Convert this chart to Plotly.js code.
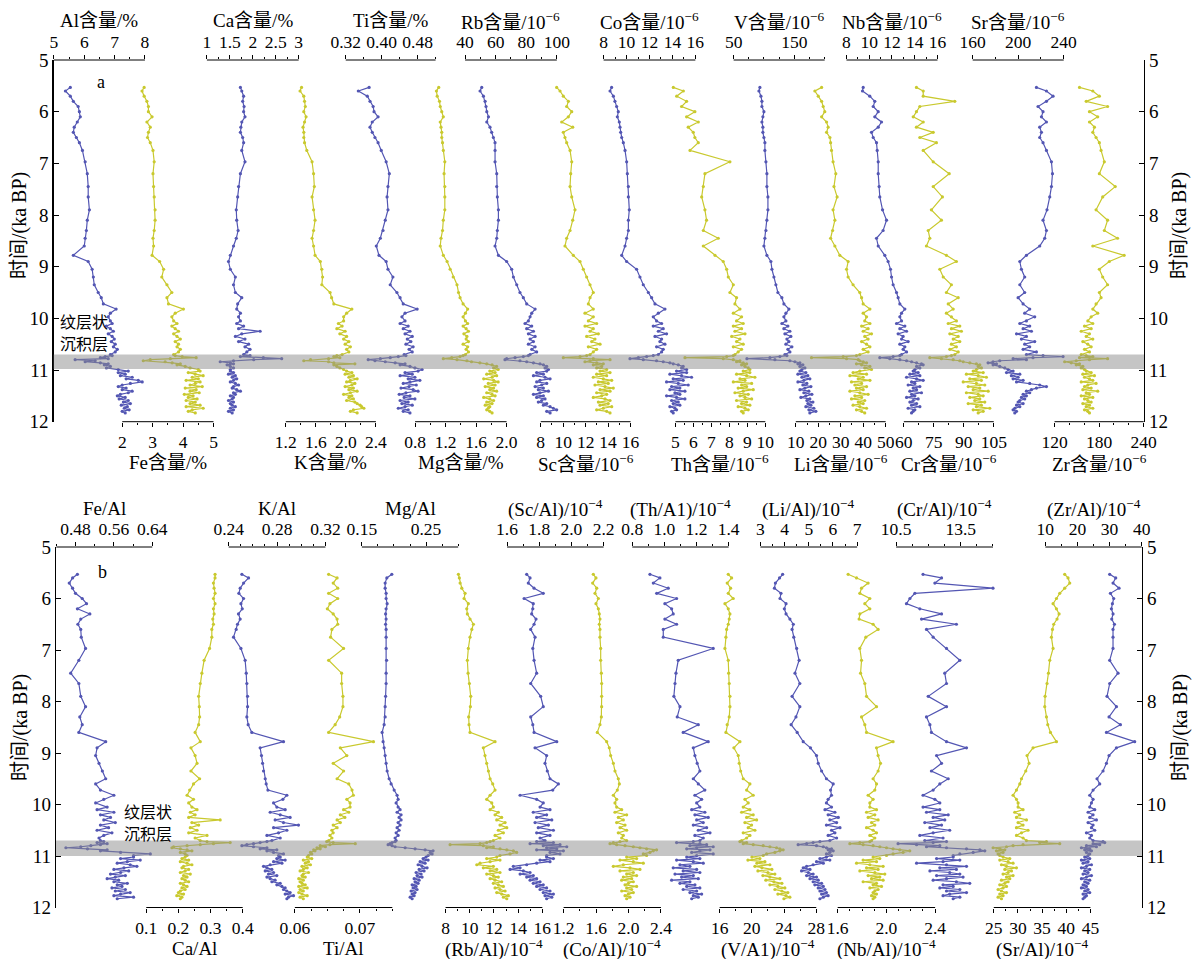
<!DOCTYPE html>
<html>
<head>
<meta charset="utf-8">
<script src="https://cdn.plot.ly/plotly-3.0.1.min.js"></script>
<style>
  html, body { margin: 0; padding: 0; background: #ffffff; }
  #chart { width: 1194px; height: 959px; }
</style>
</head>
<body>
<div id="chart"></div>
<script>
// Sample ages (ka BP) shared by every profile
const TIME = [5.53, 5.6, 5.7, 5.8, 5.9, 6.0, 6.1, 6.2, 6.3, 6.4, 6.5, 6.6, 6.75, 6.97, 7.2, 7.45, 7.65, 7.9, 8.1, 8.3, 8.45, 8.6, 8.78, 8.9, 9.05, 9.2, 9.35, 9.5, 9.6, 9.72, 9.82, 9.9, 9.97,
  10.05, 10.1, 10.15, 10.2, 10.25, 10.3, 10.35, 10.4, 10.45, 10.5, 10.55, 10.6, 10.65, 10.7,
  10.72, 10.74, 10.76, 10.78, 10.8, 10.82, 10.84, 10.86, 10.88, 10.9, 10.93, 10.96, 10.99,
  11.02, 11.05, 11.08, 11.11, 11.14, 11.17, 11.2, 11.23, 11.26, 11.29, 11.32, 11.35, 11.38, 11.41, 11.44, 11.47, 11.5, 11.53, 11.56, 11.59, 11.62, 11.65, 11.68, 11.71, 11.74, 11.77, 11.8, 11.83];

// ---- Panel a: element contents ----
const AL = [5.54, 5.38, 5.54, 5.64, 5.80, 5.84, 5.87, 5.77, 5.67, 5.64, 5.74, 5.84, 5.94, 6.03, 6.10, 6.13, 6.13, 6.17, 6.10, 6.07, 6.03, 6.00, 5.64, 6.13, 6.26, 6.30, 6.33, 6.46, 6.56, 6.63, 7.05, 6.86, 6.79,
  6.86, 6.92, 6.73, 6.86, 6.96, 6.79, 6.92, 6.99, 6.89, 7.02, 6.96, 7.09, 7.02, 6.86,
  6.92, 6.69, 6.53, 6.79, 5.70, 6.36, 6.03, 6.53, 6.79, 6.66, 6.86, 6.73, 7.12,
  7.45, 7.12, 7.35, 7.19, 7.58, 7.38, 7.78, 7.91, 7.52, 7.25, 7.12, 7.38, 7.25, 7.58, 7.45, 7.19, 7.09, 7.35, 7.15, 7.45, 7.29, 7.52, 7.22, 7.42, 7.32, 7.48, 7.25, 7.35];
const FE = [2.72, 2.65, 2.72, 2.81, 2.86, 2.86, 2.98, 2.81, 2.92, 2.86, 2.83, 2.92, 3.01, 3.05, 3.01, 3.03, 3.05, 3.08, 3.08, 3.05, 3.01, 3.03, 2.98, 3.23, 3.36, 3.30, 3.47, 3.63, 3.47, 3.52, 4.01, 3.74, 3.63,
  3.69, 3.80, 3.63, 3.74, 3.85, 3.69, 3.80, 3.91, 3.74, 3.85, 3.80, 3.91, 3.85, 3.69,
  3.74, 3.97, 4.43, 3.58, 2.92, 2.69, 3.41, 3.64, 3.91, 3.80, 4.07, 4.23, 4.50,
  4.56, 4.17, 4.40, 4.66, 4.30, 4.50, 4.10, 4.56, 4.40, 4.23, 4.63, 4.07, 4.43, 4.23, 4.53, 4.04, 4.33, 4.17, 4.46, 4.10, 4.40, 4.23, 4.56, 4.10, 4.66, 4.30, 4.17, 4.40];
const CA = [1.73, 1.76, 1.80, 1.78, 1.81, 1.80, 1.83, 1.76, 1.74, 1.73, 1.78, 1.80, 1.76, 1.83, 1.73, 1.69, 1.67, 1.64, 1.65, 1.68, 1.64, 1.58, 1.51, 1.47, 1.51, 1.62, 1.58, 1.62, 1.76, 1.67, 1.65, 1.73, 1.69,
  1.73, 1.65, 1.80, 1.69, 2.16, 1.76, 1.62, 1.83, 1.69, 1.91, 1.83, 1.94, 1.87, 1.80,
  1.94, 1.73, 2.23, 2.63, 2.02, 1.58, 1.29, 1.51, 1.58, 1.44, 1.51, 1.58, 1.51,
  1.51, 1.58, 1.47, 1.62, 1.55, 1.65, 1.58, 1.51, 1.62, 1.69, 1.58, 1.55, 1.65, 1.73, 1.58, 1.62, 1.51, 1.58, 1.55, 1.47, 1.58, 1.51, 1.55, 1.62, 1.51, 1.58, 1.47, 1.55];
const K = [1.41, 1.39, 1.44, 1.45, 1.46, 1.44, 1.47, 1.45, 1.43, 1.44, 1.44, 1.45, 1.48, 1.55, 1.57, 1.58, 1.55, 1.57, 1.59, 1.57, 1.55, 1.57, 1.59, 1.66, 1.68, 1.69, 1.68, 1.79, 1.81, 1.84, 2.08, 2.01, 1.97,
  1.97, 1.90, 1.95, 1.88, 1.99, 1.92, 2.01, 1.97, 2.04, 1.99, 2.06, 2.01, 2.04, 1.95,
  1.88, 1.84, 1.92, 1.77, 1.53, 1.44, 1.77, 1.84, 2.12, 1.84, 1.88, 1.92, 1.97,
  2.01, 2.08, 1.99, 2.10, 2.04, 2.15, 2.06, 2.01, 2.12, 2.08, 1.99, 2.10, 2.04, 2.15, 2.06, 1.97, 2.08, 2.04, 2.10, 2.01, 2.12, 2.15, 2.19, 2.21, 2.24, 2.10, 2.06, 2.15];
const TI = [0.372, 0.348, 0.368, 0.374, 0.381, 0.383, 0.392, 0.379, 0.374, 0.379, 0.385, 0.392, 0.399, 0.410, 0.417, 0.414, 0.412, 0.414, 0.408, 0.403, 0.397, 0.388, 0.394, 0.410, 0.414, 0.425, 0.419, 0.434, 0.441, 0.448, 0.479, 0.452, 0.445,
  0.452, 0.441, 0.459, 0.448, 0.463, 0.452, 0.468, 0.457, 0.465, 0.454, 0.470, 0.461, 0.468, 0.450,
  0.454, 0.437, 0.419, 0.397, 0.370, 0.385, 0.408, 0.430, 0.452, 0.441, 0.463, 0.474, 0.490,
  0.481, 0.452, 0.468, 0.441, 0.474, 0.459, 0.485, 0.463, 0.448, 0.477, 0.461, 0.443, 0.470, 0.481, 0.454, 0.439, 0.463, 0.450, 0.474, 0.441, 0.459, 0.445, 0.468, 0.452, 0.437, 0.459, 0.448, 0.463];
const MG = [1.11, 1.08, 1.09, 1.12, 1.13, 1.15, 1.17, 1.13, 1.14, 1.15, 1.15, 1.16, 1.17, 1.19, 1.18, 1.19, 1.19, 1.19, 1.17, 1.16, 1.14, 1.13, 1.17, 1.22, 1.26, 1.30, 1.35, 1.37, 1.39, 1.43, 1.49, 1.46, 1.43,
  1.46, 1.49, 1.43, 1.47, 1.50, 1.44, 1.48, 1.47, 1.50, 1.43, 1.49, 1.47, 1.50, 1.46,
  1.43, 1.39, 1.28, 1.17, 1.35, 1.48, 1.54, 1.65, 1.74, 1.81, 1.87, 1.83, 1.89,
  1.78, 1.85, 1.74, 1.87, 1.81, 1.70, 1.83, 1.89, 1.76, 1.85, 1.72, 1.83, 1.78, 1.87, 1.74, 1.81, 1.85, 1.70, 1.78, 1.83, 1.74, 1.81, 1.72, 1.78, 1.76, 1.74, 1.78, 1.81];
const RB = [50.9, 49.8, 52.0, 53.1, 53.7, 54.2, 55.3, 54.2, 56.3, 57.4, 58.5, 59.6, 59.6, 59.6, 60.7, 60.7, 61.1, 61.8, 61.8, 61.1, 60.7, 59.6, 61.8, 67.2, 70.5, 71.6, 73.8, 75.9, 78.1, 80.3, 85.8, 83.6, 82.5,
  81.4, 79.2, 83.6, 80.3, 84.7, 81.4, 85.8, 82.5, 84.7, 81.4, 85.8, 83.6, 86.8, 82.5,
  81.4, 78.1, 72.7, 67.2, 66.1, 75.9, 80.3, 84.7, 89.0, 91.2, 93.4, 92.3, 94.5,
  93.4, 86.8, 91.2, 84.7, 92.3, 95.6, 89.0, 86.8, 93.4, 90.1, 85.8, 91.2, 87.9, 94.5, 89.0, 84.7, 91.2, 86.8, 92.3, 90.1, 87.9, 93.4, 91.2, 95.6, 97.7, 99.9, 93.4, 95.6];
const SC = [9.42, 9.72, 10.01, 10.46, 10.31, 10.76, 10.46, 9.87, 10.85, 10.01, 10.16, 10.31, 10.61, 10.76, 10.67, 10.61, 10.76, 11.05, 10.85, 10.61, 10.31, 10.16, 10.90, 11.50, 11.79, 12.09, 12.39, 12.68, 12.39, 12.24, 12.68, 11.94, 12.68,
  12.24, 12.98, 11.94, 12.68, 12.39, 13.13, 12.09, 12.83, 12.54, 13.28, 12.24, 12.98, 12.68, 12.39,
  12.09, 11.50, 10.01, 12.68, 14.17, 12.39, 11.94, 12.98, 13.57, 12.68, 13.43, 12.98, 13.87,
  13.28, 14.17, 12.98, 13.87, 12.68, 13.57, 14.32, 13.13, 14.01, 12.83, 13.72, 14.46, 13.28, 14.17, 12.98, 13.87, 13.43, 12.68, 13.72, 14.17, 13.13, 14.01, 13.28, 14.32, 13.57, 12.98, 13.87, 14.17];
const CO = [8.70, 8.56, 8.85, 8.99, 9.14, 9.28, 9.20, 9.37, 9.43, 9.49, 9.58, 9.72, 9.87, 10.01, 10.07, 10.16, 10.16, 10.24, 10.16, 10.16, 10.01, 9.87, 9.58, 10.01, 10.88, 11.17, 11.46, 11.90, 12.19, 12.48, 13.35, 12.77, 12.33,
  12.62, 13.06, 12.33, 13.20, 12.77, 13.49, 12.48, 13.06, 12.91, 13.35, 12.62, 13.20, 13.06, 12.77,
  12.33, 11.75, 11.03, 10.30, 11.46, 12.62, 13.20, 13.78, 14.07, 14.51, 14.94, 14.80, 15.24,
  14.36, 15.24, 13.78, 14.80, 15.67, 14.07, 14.94, 13.49, 14.51, 15.38, 13.93, 14.65, 13.78, 15.09, 14.22, 14.65, 13.49, 14.36, 15.09, 13.93, 14.51, 14.07, 14.65, 13.78, 14.22, 14.36, 13.93, 14.07];
const TH = [4.88, 5.44, 5.07, 5.62, 5.34, 6.08, 5.62, 6.27, 5.71, 5.99, 6.08, 6.27, 5.81, 8.03, 6.64, 6.55, 6.46, 6.64, 6.73, 6.55, 7.38, 6.55, 7.20, 7.66, 7.85, 7.94, 8.22, 8.03, 8.40, 8.31, 8.59, 8.22, 8.68,
  8.40, 8.77, 8.22, 8.68, 8.31, 8.87, 8.13, 8.59, 8.40, 8.77, 8.22, 8.68, 8.49, 8.31,
  8.22, 7.85, 5.53, 7.66, 8.22, 8.59, 8.40, 8.77, 8.96, 8.68, 8.87, 9.05, 9.14,
  8.77, 9.14, 8.40, 8.96, 9.42, 8.59, 8.87, 8.22, 9.24, 8.68, 8.96, 8.49, 9.33, 8.77, 8.31, 9.05, 8.59, 8.87, 9.24, 8.40, 8.96, 8.68, 9.14, 8.49, 8.87, 9.05, 8.68, 8.77];
const V = [93.3, 91.7, 95.0, 96.6, 96.6, 99.9, 98.2, 96.6, 98.2, 98.2, 99.9, 101.5, 101.5, 103.2, 104.8, 104.8, 106.5, 106.5, 104.8, 103.2, 101.5, 99.9, 104.8, 111.4, 113.1, 116.4, 119.6, 122.9, 129.5, 132.8, 141.1, 136.1, 132.8,
  136.1, 129.5, 139.4, 132.8, 142.7, 134.5, 144.3, 137.8, 141.1, 136.1, 146.0, 139.4, 142.7, 134.5,
  137.8, 126.2, 109.8, 71.9, 118.0, 142.7, 150.9, 159.2, 155.9, 164.1, 159.2, 167.4, 162.5,
  159.2, 169.0, 155.9, 172.3, 162.5, 175.6, 165.7, 155.9, 170.7, 164.1, 177.3, 167.4, 159.2, 174.0, 165.7, 178.9, 169.0, 160.8, 175.6, 170.7, 180.6, 172.3, 177.3, 169.0, 182.2, 174.0, 185.5, 175.6];
const LI = [21.5, 18.5, 20.0, 21.5, 22.2, 22.9, 21.5, 23.7, 24.4, 23.7, 25.2, 25.5, 25.9, 26.6, 27.8, 27.0, 28.4, 26.6, 27.4, 26.4, 25.5, 27.4, 29.6, 33.3, 32.6, 33.3, 35.5, 38.5, 39.3, 40.0, 43.0, 40.0, 41.5,
  40.7, 43.0, 39.3, 42.2, 40.0, 43.7, 40.7, 42.2, 39.3, 41.5, 43.0, 40.0, 42.2, 38.5,
  37.0, 31.1, 17.0, 32.6, 37.8, 38.5, 40.0, 41.5, 37.0, 39.3, 43.0, 40.7, 43.7,
  38.5, 35.5, 41.5, 34.1, 40.0, 37.8, 43.0, 34.8, 39.3, 36.3, 41.5, 37.0, 40.0, 34.1, 38.5, 42.2, 36.3, 39.3, 34.8, 40.7, 37.8, 40.0, 35.5, 38.5, 41.5, 37.0, 39.3, 40.7];
const NB = [9.47, 9.41, 10.05, 10.49, 10.35, 10.79, 10.49, 11.08, 10.79, 10.20, 10.35, 10.64, 10.70, 10.79, 10.79, 10.87, 10.93, 11.17, 11.52, 11.22, 10.64, 10.79, 11.37, 11.66, 11.87, 11.96, 12.10, 12.40, 12.54, 12.69, 13.13, 12.84, 12.69,
  12.84, 12.40, 13.13, 12.69, 13.28, 12.54, 12.98, 12.84, 13.42, 12.69, 13.13, 12.98, 13.28, 12.84,
  12.69, 12.10, 10.93, 11.81, 12.69, 13.28, 13.72, 14.16, 14.59, 14.74, 14.16, 14.45, 14.01,
  13.86, 14.30, 13.57, 14.45, 13.28, 14.16, 14.74, 13.72, 14.01, 13.42, 14.45, 13.86, 14.16, 13.57, 14.59, 13.72, 14.01, 13.28, 14.30, 13.86, 13.57, 14.16, 13.72, 14.45, 13.42, 14.01, 13.86, 13.72];
const CR = [66.3, 69.7, 69.7, 85.5, 68.0, 66.3, 64.7, 69.7, 66.3, 74.7, 68.0, 76.3, 69.7, 74.7, 82.7, 74.7, 79.3, 73.8, 78.8, 72.2, 73.0, 71.3, 81.3, 86.3, 78.0, 79.7, 83.8, 81.3, 87.2, 82.2, 84.7, 81.3, 83.8,
  86.3, 82.2, 88.0, 83.8, 88.8, 83.0, 87.2, 84.7, 88.0, 83.8, 86.3, 83.0, 87.2, 85.5,
  83.8, 81.3, 73.0, 78.8, 84.7, 88.0, 89.7, 93.0, 96.3, 98.0, 97.2, 98.8, 96.3,
  94.7, 99.7, 91.3, 97.2, 101.3, 93.0, 98.8, 89.7, 96.3, 100.5, 92.2, 98.0, 94.7, 102.2, 91.3, 97.2, 99.7, 93.0, 98.0, 95.5, 100.5, 92.2, 98.8, 96.3, 103.0, 94.7, 99.7, 97.2];
const SR = [216.0, 224.8, 230.6, 224.8, 217.4, 221.8, 220.4, 224.8, 218.9, 220.4, 218.9, 221.8, 224.8, 229.2, 230.1, 229.2, 227.7, 225.3, 221.8, 224.8, 223.3, 218.9, 207.2, 201.4, 202.8, 205.7, 201.4, 205.7, 199.9, 204.3, 210.1, 205.7, 214.5,
  207.2, 201.4, 210.1, 204.3, 211.6, 198.5, 207.2, 202.8, 214.5, 205.7, 210.1, 204.3, 216.0, 207.2,
  221.8, 239.4, 213.0, 195.5, 207.2, 183.8, 177.9, 173.5, 180.9, 177.9, 183.8, 188.2, 191.1,
  195.5, 189.7, 201.4, 194.0, 199.9, 195.5, 204.3, 198.5, 210.1, 218.9, 224.8, 216.0, 211.6, 207.2, 210.1, 204.3, 207.2, 202.8, 205.7, 201.4, 199.9, 204.3, 198.5, 201.4, 197.0, 195.5, 198.5, 197.0];
const ZR = [153.6, 171.5, 180.3, 162.6, 191.4, 167.0, 178.1, 167.0, 173.7, 171.5, 175.9, 180.3, 182.6, 187.0, 180.3, 201.7, 184.8, 175.9, 191.4, 187.0, 204.8, 171.5, 213.7, 193.7, 180.3, 184.8, 191.4, 180.3, 182.6, 175.9, 171.5, 178.1, 169.3,
  164.8, 171.5, 160.3, 169.3, 155.9, 167.0, 162.6, 171.5, 158.1, 164.8, 169.3, 160.3, 167.0, 155.9,
  162.6, 171.5, 153.6, 191.4, 167.0, 149.2, 133.6, 142.5, 153.6, 149.2, 158.1, 155.9, 160.3,
  162.6, 169.3, 158.1, 173.7, 160.3, 167.0, 171.5, 155.9, 175.9, 164.8, 160.3, 169.3, 158.1, 178.1, 162.6, 167.0, 155.9, 171.5, 160.3, 164.8, 169.3, 158.1, 167.0, 162.6, 171.5, 160.3, 164.8, 167.0];

// ---- Panel b: ratios to Al ----
const FE_AL = [0.484, 0.474, 0.467, 0.474, 0.480, 0.494, 0.503, 0.484, 0.510, 0.491, 0.485, 0.491, 0.492, 0.501, 0.487, 0.470, 0.487, 0.491, 0.501, 0.489, 0.494, 0.487, 0.543, 0.525, 0.522, 0.529, 0.536, 0.543, 0.522, 0.532, 0.560, 0.539, 0.522,
  0.546, 0.525, 0.560, 0.532, 0.553, 0.539, 0.563, 0.532, 0.549, 0.525, 0.556, 0.539, 0.529, 0.532,
  0.539, 0.525, 0.546, 0.532, 0.512, 0.491, 0.460, 0.505, 0.546, 0.532, 0.574, 0.636, 0.601,
  0.601, 0.574, 0.615, 0.588, 0.567, 0.594, 0.608, 0.581, 0.560, 0.591, 0.574, 0.553, 0.584, 0.563, 0.546, 0.570, 0.560, 0.588, 0.567, 0.577, 0.556, 0.584, 0.563, 0.594, 0.574, 0.560, 0.601, 0.567];
const CA_AL = [0.314, 0.314, 0.309, 0.311, 0.314, 0.309, 0.314, 0.309, 0.311, 0.307, 0.309, 0.304, 0.304, 0.297, 0.280, 0.273, 0.268, 0.263, 0.265, 0.266, 0.263, 0.252, 0.268, 0.239, 0.252, 0.258, 0.239, 0.266, 0.247, 0.235, 0.227, 0.247, 0.232,
  0.242, 0.258, 0.237, 0.252, 0.232, 0.330, 0.242, 0.263, 0.237, 0.258, 0.232, 0.289, 0.252, 0.268,
  0.289, 0.361, 0.309, 0.268, 0.227, 0.185, 0.180, 0.206, 0.227, 0.242, 0.206, 0.221, 0.227,
  0.221, 0.211, 0.232, 0.206, 0.227, 0.242, 0.216, 0.211, 0.232, 0.221, 0.206, 0.237, 0.216, 0.227, 0.211, 0.221, 0.232, 0.206, 0.216, 0.227, 0.211, 0.221, 0.206, 0.200, 0.216, 0.195, 0.211, 0.206];
const K_AL = [0.2509, 0.2564, 0.2523, 0.2495, 0.2484, 0.2523, 0.2501, 0.2512, 0.2481, 0.2495, 0.2473, 0.2462, 0.2440, 0.2501, 0.2536, 0.2545, 0.2550, 0.2556, 0.2556, 0.2550, 0.2561, 0.2591, 0.2853, 0.2660, 0.2671, 0.2680, 0.2688, 0.2702, 0.2710, 0.2724, 0.2881, 0.2848, 0.2771,
  0.2798, 0.2867, 0.2743, 0.2826, 0.2908, 0.2784, 0.2853, 0.2977, 0.2771, 0.2881, 0.2812, 0.2716, 0.2826, 0.2757,
  0.2716, 0.2660, 0.2605, 0.2550, 0.2509, 0.2605, 0.2716, 0.2660, 0.2798, 0.2716, 0.2771, 0.2853, 0.2812,
  0.2826, 0.2798, 0.2867, 0.2771, 0.2840, 0.2743, 0.2688, 0.2716, 0.2757, 0.2702, 0.2771, 0.2729, 0.2798, 0.2716, 0.2743, 0.2784, 0.2757, 0.2826, 0.2798, 0.2840, 0.2867, 0.2853, 0.2881, 0.2908, 0.2867, 0.2936, 0.2894, 0.2881];
const TI_AL = [0.0652, 0.0665, 0.0659, 0.0666, 0.0652, 0.0666, 0.0654, 0.0650, 0.0659, 0.0665, 0.0666, 0.0657, 0.0655, 0.0675, 0.0652, 0.0672, 0.0672, 0.0674, 0.0674, 0.0669, 0.0662, 0.0652, 0.0721, 0.0670, 0.0680, 0.0659, 0.0675, 0.0665, 0.0683, 0.0688, 0.0690, 0.0680, 0.0685,
  0.0685, 0.0675, 0.0683, 0.0670, 0.0677, 0.0665, 0.0670, 0.0659, 0.0665, 0.0657, 0.0659, 0.0654, 0.0657, 0.0652,
  0.0649, 0.0659, 0.0693, 0.0654, 0.0639, 0.0647, 0.0634, 0.0639, 0.0629, 0.0631, 0.0624, 0.0626, 0.0621,
  0.0619, 0.0626, 0.0613, 0.0621, 0.0616, 0.0624, 0.0611, 0.0619, 0.0613, 0.0608, 0.0621, 0.0613, 0.0611, 0.0616, 0.0606, 0.0613, 0.0608, 0.0611, 0.0616, 0.0606, 0.0619, 0.0608, 0.0613, 0.0606, 0.0611, 0.0619, 0.0608, 0.0613];
const MG_AL = [0.1967, 0.1889, 0.1863, 0.1863, 0.1878, 0.1878, 0.1894, 0.1878, 0.1870, 0.1878, 0.1870, 0.1878, 0.1878, 0.1878, 0.1886, 0.1878, 0.1878, 0.1870, 0.1863, 0.1863, 0.1847, 0.1816, 0.1831, 0.1847, 0.1863, 0.1878, 0.1894, 0.1925, 0.1956, 0.2003, 0.2049, 0.2065, 0.2034,
  0.2065, 0.2096, 0.2049, 0.2111, 0.2080, 0.2111, 0.2065, 0.2096, 0.2049, 0.2080, 0.2034, 0.2065, 0.2018, 0.2034,
  0.2018, 0.1971, 0.1940, 0.1909, 0.1971, 0.2018, 0.2174, 0.2329, 0.2485, 0.2609, 0.2563, 0.2594, 0.2532,
  0.2500, 0.2454, 0.2532, 0.2407, 0.2485, 0.2376, 0.2438, 0.2516, 0.2392, 0.2469, 0.2345, 0.2423, 0.2360, 0.2438, 0.2314, 0.2392, 0.2329, 0.2376, 0.2283, 0.2345, 0.2298, 0.2360, 0.2267, 0.2329, 0.2283, 0.2314, 0.2252, 0.2283];
const RB_AL = [9.06, 9.14, 9.20, 9.34, 9.61, 9.53, 9.88, 9.75, 9.80, 10.02, 10.30, 10.17, 10.02, 9.88, 9.80, 9.86, 9.97, 10.08, 10.05, 9.91, 9.94, 10.02, 12.09, 11.12, 11.26, 11.40, 11.54, 11.68, 11.90, 12.09, 11.68, 11.40, 11.82,
  11.95, 11.68, 12.36, 12.09, 12.64, 12.23, 12.92, 12.50, 13.06, 12.36, 12.78, 12.09, 12.50, 11.95,
  11.68, 11.40, 10.85, 8.37, 11.12, 11.95, 11.40, 12.50, 13.06, 13.60, 13.88, 13.33, 12.50,
  12.23, 11.40, 12.50, 11.68, 10.85, 10.58, 11.95, 11.12, 12.23, 11.68, 12.50, 11.40, 11.95, 12.36, 11.68, 12.09, 12.64, 11.95, 12.36, 12.78, 12.09, 12.50, 12.92, 12.23, 12.64, 13.19, 12.78, 13.06];
const SC_AL = [1.722, 1.743, 1.732, 1.768, 1.825, 1.706, 1.763, 1.760, 1.753, 1.780, 1.768, 1.747, 1.774, 1.760, 1.768, 1.784, 1.747, 1.809, 1.825, 1.747, 1.760, 1.768, 1.909, 1.774, 1.846, 1.836, 1.850, 1.867, 1.919, 1.884, 1.681, 1.784, 1.825,
  1.805, 1.867, 1.763, 1.846, 1.784, 1.878, 1.774, 1.857, 1.794, 1.888, 1.784, 1.867, 1.805, 1.836,
  1.784, 1.888, 1.743, 1.929, 1.825, 1.971, 1.846, 1.909, 1.784, 1.950, 1.867, 1.929, 1.846,
  1.846, 1.888, 1.805, 1.867, 1.784, 1.722, 1.639, 1.681, 1.619, 1.701, 1.743, 1.681, 1.763, 1.722, 1.784, 1.743, 1.805, 1.763, 1.825, 1.784, 1.846, 1.805, 1.867, 1.825, 1.888, 1.836, 1.878, 1.846];
const CO_AL = [1.566, 1.599, 1.558, 1.608, 1.587, 1.628, 1.599, 1.628, 1.640, 1.648, 1.640, 1.648, 1.648, 1.657, 1.657, 1.665, 1.669, 1.669, 1.669, 1.665, 1.648, 1.615, 1.731, 1.763, 1.780, 1.813, 1.833, 1.874, 1.887, 1.862, 1.813, 1.854, 1.833,
  1.854, 1.916, 1.833, 1.977, 1.874, 1.936, 1.854, 1.957, 1.895, 1.977, 1.874, 1.936, 1.916, 1.977,
  1.895, 1.813, 1.772, 1.854, 1.957, 2.059, 2.141, 2.223, 2.346, 2.305, 2.264, 2.182, 2.223,
  1.977, 2.100, 1.895, 2.059, 2.182, 1.936, 1.813, 2.018, 2.141, 1.895, 2.059, 1.977, 2.100, 1.936, 2.039, 1.916, 2.059, 1.998, 1.957, 2.100, 1.977, 2.039, 1.916, 2.059, 1.998, 1.957, 2.018, 1.977];
const TH_AL = [0.910, 0.972, 0.931, 1.024, 0.952, 1.076, 1.003, 1.045, 1.055, 1.003, 1.076, 0.993, 0.993, 1.304, 1.086, 1.072, 1.066, 1.059, 1.097, 1.080, 1.211, 1.117, 1.273, 1.180, 1.190, 1.204, 1.221, 1.180, 1.211, 1.252, 1.190, 1.232, 1.201,
  1.221, 1.170, 1.252, 1.190, 1.273, 1.201, 1.242, 1.180, 1.263, 1.211, 1.284, 1.190, 1.242, 1.221,
  1.180, 1.076, 1.221, 1.263, 1.159, 1.304, 1.201, 1.139, 1.284, 1.221, 1.170, 1.304, 1.201,
  1.139, 1.221, 1.076, 1.180, 1.242, 1.097, 1.159, 1.055, 1.201, 1.117, 1.221, 1.066, 1.180, 1.107, 1.211, 1.045, 1.159, 1.097, 1.190, 1.139, 1.221, 1.117, 1.201, 1.159, 1.232, 1.180, 1.211, 1.170];
const V_AL = [17.07, 17.49, 16.94, 17.36, 17.07, 17.69, 16.66, 17.07, 17.28, 17.19, 17.07, 16.87, 16.78, 16.66, 17.07, 17.12, 17.19, 17.28, 17.28, 17.19, 16.94, 16.78, 18.52, 17.77, 18.31, 18.43, 18.61, 18.93, 19.76, 19.35, 20.17, 19.14, 19.55,
  18.93, 19.76, 18.73, 20.17, 19.35, 20.59, 19.14, 19.97, 19.55, 20.38, 18.93, 19.76, 19.35, 18.73,
  18.52, 19.35, 18.93, 20.17, 21.41, 22.24, 23.07, 23.48, 23.89, 23.48, 22.86, 21.83, 21.41,
  20.01, 21.00, 19.51, 21.62, 20.63, 22.24, 20.38, 21.25, 22.49, 20.75, 21.99, 22.86, 21.37, 22.24, 23.48, 21.74, 22.74, 23.73, 22.24, 23.23, 24.10, 22.86, 23.73, 24.47, 23.23, 24.23, 24.72, 23.98];
const LI_AL = [3.92, 3.79, 3.62, 3.58, 3.85, 3.81, 4.06, 3.99, 4.06, 4.22, 4.36, 4.31, 4.38, 4.50, 4.60, 4.43, 4.63, 4.31, 4.63, 4.47, 4.27, 4.52, 4.77, 5.07, 5.32, 5.39, 5.53, 5.73, 6.01, 5.90, 5.94, 5.80, 5.73,
  5.94, 5.67, 6.08, 5.80, 6.22, 5.87, 6.15, 5.73, 6.29, 5.94, 6.08, 5.80, 6.15, 5.87,
  5.46, 5.18, 4.91, 4.56, 5.32, 5.60, 5.73, 5.94, 5.80, 6.01, 5.87, 5.73, 5.94,
  5.73, 5.46, 5.87, 5.32, 5.60, 5.18, 4.91, 4.77, 5.05, 4.70, 4.98, 5.18, 4.91, 5.32, 5.05, 5.39, 5.18, 5.53, 5.25, 5.60, 5.39, 5.67, 5.46, 5.73, 5.53, 5.80, 5.60, 5.46];
const NB_AL = [1.686, 1.755, 1.850, 1.796, 1.782, 1.864, 1.823, 1.864, 1.782, 1.776, 1.891, 1.932, 1.831, 1.782, 1.796, 1.788, 1.823, 1.837, 1.919, 1.796, 1.823, 1.837, 2.055, 1.919, 1.932, 1.952, 1.932, 1.891, 1.919, 1.905, 1.850, 1.891, 1.864,
  1.864, 1.919, 1.837, 1.905, 1.850, 1.932, 1.878, 1.905, 1.837, 1.891, 1.919, 1.864, 1.905, 1.878,
  1.864, 1.782, 1.700, 1.809, 1.891, 1.946, 2.001, 2.055, 2.110, 2.192, 2.137, 2.055, 2.001,
  1.891, 1.946, 1.809, 1.919, 1.755, 1.864, 1.973, 1.837, 1.932, 1.782, 1.905, 1.987, 1.850, 1.946, 1.878, 1.973, 1.809, 1.919, 1.891, 1.960, 1.864, 1.932, 1.905, 1.891, 1.919, 1.878, 1.905, 1.891];
const CR_AL = [11.75, 12.61, 12.30, 15.0, 11.37, 11.14, 10.98, 11.60, 12.61, 11.68, 13.30, 11.91, 12.22, 12.84, 13.46, 12.76, 12.84, 11.99, 12.84, 11.91, 12.07, 12.14, 12.84, 13.77, 12.38, 12.61, 12.14, 12.92, 12.53, 12.22, 11.75, 12.30, 12.53,
  11.75, 12.53, 11.91, 12.92, 12.22, 12.76, 11.83, 12.61, 12.07, 12.99, 12.22, 11.60, 12.68, 11.83,
  12.84, 12.22, 10.59, 11.45, 12.53, 11.91, 12.84, 13.77, 14.39, 14.62, 14.08, 13.46, 13.15,
  13.15, 12.38, 13.46, 12.68, 11.45, 12.84, 13.77, 12.53, 13.30, 12.07, 12.99, 13.46, 12.38, 13.61, 12.84, 12.22, 13.30, 13.92, 12.68, 13.15, 12.53, 13.46, 12.84, 13.77, 12.99, 12.68, 13.46, 13.15];
const SR_AL = [39.68, 40.37, 40.72, 39.68, 38.65, 37.97, 37.27, 37.97, 38.51, 38.09, 37.41, 37.14, 36.93, 37.27, 36.58, 36.31, 36.02, 35.62, 35.55, 35.90, 36.17, 36.73, 37.97, 33.13, 31.89, 32.30, 31.62, 30.73, 30.38, 29.69, 28.99, 29.69, 30.03,
  30.03, 31.06, 29.34, 30.38, 29.69, 31.76, 30.03, 31.06, 29.69, 32.09, 30.73, 29.69, 31.06, 31.76,
  35.90, 34.51, 38.65, 31.06, 28.99, 27.63, 24.86, 26.24, 27.28, 25.55, 26.92, 25.89, 26.24,
  26.92, 28.31, 26.24, 27.96, 28.99, 26.59, 27.63, 29.69, 27.28, 28.66, 27.96, 26.92, 28.99, 27.63, 28.31, 26.59, 27.96, 27.28, 26.24, 27.63, 26.92, 25.89, 26.59, 27.63, 26.24, 26.92, 25.89, 26.59];
const ZR_AL = [30.04, 31.91, 31.07, 32.94, 30.26, 31.29, 30.88, 30.57, 31.07, 30.67, 31.51, 31.07, 31.07, 31.07, 30.04, 32.63, 30.04, 29.20, 32.13, 29.83, 33.37, 29.02, 37.82, 32.13, 29.83, 29.02, 27.96, 26.09, 26.93, 24.86, 23.82, 24.86, 24.35,
  23.82, 25.38, 23.30, 24.86, 23.82, 25.90, 23.30, 24.86, 24.35, 25.38, 22.79, 24.35, 23.82, 24.86,
  27.96, 28.49, 24.86, 26.93, 22.79, 25.90, 21.23, 23.82, 22.26, 24.35, 22.79, 23.82, 23.30,
  22.26, 23.82, 21.23, 23.30, 21.74, 24.35, 22.79, 21.23, 23.82, 22.26, 23.30, 21.74, 24.35, 22.79, 21.23, 23.82, 22.26, 23.30, 21.74, 22.79, 21.23, 23.30, 22.26, 23.82, 21.74, 22.79, 22.26, 21.74];

// Age axis ticks and the laminated-sediment interval
const AGE_TICKS = [5, 6, 7, 8, 9, 10, 11, 12];
const AGE_TITLE = '时间/(ka BP)';
const LAMINA_LINES = ['纹层状', '沉积层'];
const BAND_A = [10.7, 10.98];
const BAND_B = [10.7, 11.0];

// ---- styling / layout ----
const BLUE = '#5356b3';
const YELLOW = '#c9c92e';
const FONT = '"Liberation Serif", "Times New Roman", "Noto Sans CJK SC", serif';
const CJK = '"Noto Sans CJK SC", "Liberation Serif", sans-serif';
const W = 1194, H = 959;
const SUP6 = '/10<sup>−6</sup>';
const SUP4 = '/10<sup>−4</sup>';

// Each profile: title, data, side of its scale, scale limits, labelled ticks, minor step, pixel span of its scale bar
const PANELS = [
  {
    top: 60, bottom: 421.7, left: 53.6, right: 1144,
    titleTop: 20.5, titleBottom: 462.5, yTitleY: 226,
    letter: 'a', letterXY: [101, 82], noteX: 84, noteY: [321, 343], band: BAND_A,
    series: [
      { t: 'Al含量/%', d: AL, s: 'top', lo: 5, hi: 8, lab: ['5', '6', '7', '8'], mn: 0.5, px: [53.6, 144.7] },
      { t: 'Fe含量/%', d: FE, s: 'bottom', lo: 2, hi: 5, lab: ['2', '3', '4', '5'], mn: 0.5, px: [122, 213.3] },
      { t: 'Ca含量/%', d: CA, s: 'top', lo: 1, hi: 3, lab: ['1', '1.5', '2', '2.5', '3'], mn: 0.25, px: [206.7, 298.5] },
      { t: 'K含量/%', d: K, s: 'bottom', lo: 1.2, hi: 2.4, lab: ['1.2', '1.6', '2.0', '2.4'], mn: 0.2, px: [285.6, 375.8] },
      { t: 'Ti含量/%', d: TI, s: 'top', lo: 0.32, hi: 0.52, lab: ['0.32', '0.40', '0.48'], mn: 0.04, px: [345.6, 435.5] },
      { t: 'Mg含量/%', d: MG, s: 'bottom', lo: 0.8, hi: 2.0, lab: ['0.8', '1.2', '1.6', '2.0'], mn: 0.2, px: [415, 506.5] },
      { t: 'Rb含量' + SUP6, d: RB, s: 'top', lo: 40, hi: 100, lab: ['40', '60', '80', '100'], mn: 10, px: [465, 556.8] },
      { t: 'Sc含量' + SUP6, d: SC, s: 'bottom', lo: 8, hi: 16, lab: ['8', '10', '12', '14', '16'], mn: 1, px: [540.7, 630.6] },
      { t: 'Co含量' + SUP6, d: CO, s: 'top', lo: 8, hi: 16, lab: ['8', '10', '12', '14', '16'], mn: 1, px: [603.6, 695.4] },
      { t: 'Th含量' + SUP6, d: TH, s: 'bottom', lo: 5, hi: 10, lab: ['5', '6', '7', '8', '9', '10'], mn: 0.5, px: [675.5, 765.4] },
      { t: 'V含量' + SUP6, d: V, s: 'top', lo: 50, hi: 200, lab: ['50', '150'], mn: 25, px: [733.7, 824.8] },
      { t: 'Li含量' + SUP6, d: LI, s: 'bottom', lo: 10, hi: 50, lab: ['10', '20', '30', '40', '50'], mn: 5, px: [795.9, 885.8] },
      { t: 'Nb含量' + SUP6, d: NB, s: 'top', lo: 8, hi: 16, lab: ['8', '10', '12', '14', '16'], mn: 1, px: [846.6, 937.7] },
      { t: 'Cr含量' + SUP6, d: CR, s: 'bottom', lo: 60, hi: 105, lab: ['60', '75', '90', '105'], mn: 7.5, px: [904, 994] },
      { t: 'Sr含量' + SUP6, d: SR, s: 'top', lo: 160, hi: 240, lab: ['160', '200', '240'], mn: 20, px: [972.9, 1064] },
      { t: 'Zr含量' + SUP6, d: ZR, s: 'bottom', lo: 120, hi: 240, lab: ['120', '180', '240'], mn: 20, px: [1054.8, 1144] }
    ]
  },
  {
    top: 547, bottom: 907.5, left: 56, right: 1142,
    titleTop: 508.5, titleBottom: 948, yTitleY: 728,
    letter: 'b', letterXY: [102, 572], noteX: 148, noteY: [811, 833], band: BAND_B,
    series: [
      { t: 'Fe/Al', d: FE_AL, s: 'top', lo: 0.44, hi: 0.64, lab: ['0.48', '0.56', '0.64'], mn: 0.04, px: [56, 152] },
      { t: 'Ca/Al', d: CA_AL, s: 'bottom', lo: 0.1, hi: 0.4, lab: ['0.1', '0.2', '0.3', '0.4'], mn: 0.05, px: [146, 242.5] },
      { t: 'K/Al', d: K_AL, s: 'top', lo: 0.24, hi: 0.32, lab: ['0.24', '0.28', '0.32'], mn: 0.01, px: [228.5, 325.3] },
      { t: 'Ti/Al', d: TI_AL, s: 'bottom', lo: 0.06, hi: 0.075, lab: ['0.06', '0.07'], mn: 0.0025, px: [294.7, 392.2] },
      { t: 'Mg/Al', d: MG_AL, s: 'top', lo: 0.15, hi: 0.30, lab: ['0.15', '0.25'], mn: 0.025, px: [361.7, 458.1] },
      { t: '(Rb/Al)' + SUP4, d: RB_AL, s: 'bottom', lo: 8, hi: 16, lab: ['8', '10', '12', '14', '16'], mn: 1, px: [445.5, 542.3] },
      { t: '(Sc/Al)' + SUP4, d: SC_AL, s: 'top', lo: 1.6, hi: 2.2, lab: ['1.6', '1.8', '2.0', '2.2'], mn: 0.1, px: [507, 603.6] },
      { t: '(Co/Al)' + SUP4, d: CO_AL, s: 'bottom', lo: 1.2, hi: 2.4, lab: ['1.2', '1.6', '2.0', '2.4'], mn: 0.2, px: [563.6, 661] },
      { t: '(Th/A1)' + SUP4, d: TH_AL, s: 'top', lo: 0.8, hi: 1.4, lab: ['0.8', '1.0', '1.2', '1.4'], mn: 0.1, px: [632.3, 728.7] },
      { t: '(V/A1)' + SUP4, d: V_AL, s: 'bottom', lo: 16, hi: 28, lab: ['16', '20', '24', '28'], mn: 2, px: [719.7, 816.4] },
      { t: '(Li/Al)' + SUP4, d: LI_AL, s: 'top', lo: 3, hi: 7, lab: ['3', '4', '5', '6', '7'], mn: 0.5, px: [760.5, 857.3] },
      { t: '(Nb/Al)' + SUP4, d: NB_AL, s: 'bottom', lo: 1.6, hi: 2.4, lab: ['1.6', '2.0', '2.4'], mn: 0.1, px: [837.8, 935.3] },
      { t: '(Cr/Al)' + SUP4, d: CR_AL, s: 'top', lo: 10.5, hi: 15, lab: ['10.5', '13.5'], mn: 0.75, px: [896.3, 993.2] },
      { t: '(Sr/Al)' + SUP4, d: SR_AL, s: 'bottom', lo: 25, hi: 45, lab: ['25', '30', '35', '40', '45'], mn: 2.5, px: [994, 1090.7] },
      { t: '(Zr/Al)' + SUP4, d: ZR_AL, s: 'top', lo: 10, hi: 40, lab: ['10', '20', '30', '40'], mn: 5, px: [1045.6, 1142] }
    ]
  }
];

const traces = [];
const layout = {
  width: W, height: H,
  margin: { l: 0, r: 0, t: 0, b: 0 },
  paper_bgcolor: '#ffffff', plot_bgcolor: '#ffffff',
  showlegend: false,
  font: { family: FONT, size: 18, color: '#000' },
  shapes: [], annotations: []
};

const px2x = p => p / W;
const py2y = p => 1 - p / H;

let axisCount = 0;
PANELS.forEach((p, pi) => {
  const yName = pi === 0 ? 'y' : 'y2';
  const yKey = pi === 0 ? 'yaxis' : 'yaxis2';
  const yRName = pi === 0 ? 'y3' : 'y4';
  const yRKey = pi === 0 ? 'yaxis3' : 'yaxis4';
  const xDomain = [px2x(p.left), px2x(p.right)];
  const yDomain = [py2y(p.bottom), py2y(p.top)];
  let baseX = null;

  p.series.forEach((s, si) => {
    axisCount += 1;
    const xName = axisCount === 1 ? 'x' : 'x' + axisCount;
    const xKey = axisCount === 1 ? 'xaxis' : 'xaxis' + axisCount;
    if (si === 0) baseX = xName;
    const k = (s.hi - s.lo) / (s.px[1] - s.px[0]);
    // small pad so ticks sitting on the frame edge are kept
    const range = [s.lo - (s.px[0] - p.left + 0.3) * k, s.hi + (p.right - s.px[1] + 0.3) * k];
    const minorVals = [];
    for (let v = s.lo; v <= s.hi + 1e-9; v += s.mn) minorVals.push(+v.toFixed(6));
    const ax = {
      domain: xDomain, anchor: yName, side: s.s, range: range,
      showgrid: false, zeroline: false, showline: false, fixedrange: true,
      tickmode: 'array', tickvals: s.lab.map(Number), ticktext: s.lab, tickangle: 0,
      ticks: 'outside', ticklen: 4, tickwidth: 1, tickcolor: '#000',
      minor: { tickmode: 'array', tickvals: minorVals, ticks: 'outside', ticklen: 2.5, tickwidth: 1, tickcolor: '#000', showgrid: false },
      tickfont: { family: FONT, size: 17.5, color: '#000' }
    };
    if (si > 0) ax.overlaying = baseX;
    layout[xKey] = ax;

    // scale bar
    const yLine = s.s === 'top' ? py2y(p.top) : py2y(p.bottom);
    layout.shapes.push({ type: 'line', xref: xName, yref: 'paper', x0: s.lo, x1: s.hi, y0: yLine, y1: yLine, line: { color: '#000', width: 1 } });

    // scale title
    layout.annotations.push({
      xref: xName, yref: 'paper', x: (s.lo + s.hi) / 2, y: py2y(s.s === 'top' ? p.titleTop : p.titleBottom),
      text: s.t, showarrow: false, xanchor: 'center', yanchor: 'middle',
      font: { family: FONT, size: 19, color: '#000' }
    });

    const color = si % 2 === 0 ? BLUE : YELLOW;
    traces.push({
      type: 'scatter', mode: 'lines+markers', x: s.d, y: TIME, xaxis: xName, yaxis: yName,
      line: { color: color, width: 1.2 }, marker: { color: color, size: 3.2 },
      hoverinfo: 'skip', showlegend: false
    });
  });

  const yCommon = {
    range: [12, 5], tickmode: 'array', tickvals: AGE_TICKS, ticktext: AGE_TICKS.map(String),
    ticks: 'inside', ticklen: 5, tickwidth: 1, tickcolor: '#000',
    showline: true, linecolor: '#000', linewidth: 1.2, showgrid: false, zeroline: false, fixedrange: true,
    tickfont: { family: FONT, size: 19, color: '#000' }
  };
  layout[yKey] = Object.assign({}, yCommon, { domain: yDomain, anchor: baseX, side: 'left' });
  layout[yRKey] = Object.assign({}, yCommon, { overlaying: yName, anchor: baseX, side: 'right' });
  traces.push({ type: 'scatter', mode: 'lines', x: [], y: [], xaxis: baseX, yaxis: yRName, hoverinfo: 'skip', showlegend: false });

  // laminated interval
  layout.shapes.push({
    type: 'rect', xref: 'paper', yref: yName, x0: xDomain[0], x1: xDomain[1], y0: p.band[0], y1: p.band[1],
    fillcolor: 'rgba(140,140,140,0.5)', line: { width: 0 }, layer: 'above'
  });

  // age titles on both sides
  [20, 1180].forEach(xp => {
    layout.annotations.push({
      xref: 'paper', yref: 'paper', x: px2x(xp), y: py2y(p.yTitleY), text: AGE_TITLE, textangle: -90,
      showarrow: false, xanchor: 'center', yanchor: 'middle', font: { family: FONT, size: 20, color: '#000' }
    });
  });

  // panel letter
  layout.annotations.push({
    xref: 'paper', yref: 'paper', x: px2x(p.letterXY[0]), y: py2y(p.letterXY[1]), text: p.letter,
    showarrow: false, xanchor: 'center', yanchor: 'middle', font: { family: FONT, size: 18, color: '#000' }
  });

  // lamina note, one annotation per line
  LAMINA_LINES.forEach((line, li) => {
    layout.annotations.push({
      xref: 'paper', yref: 'paper', x: px2x(p.noteX), y: py2y(p.noteY[li]), text: line,
      showarrow: false, xanchor: 'center', yanchor: 'middle',
      font: { family: CJK, size: 16, color: '#000' }
    });
  });
});

Plotly.newPlot('chart', traces, layout, { staticPlot: true, displayModeBar: false });
</script>
</body>
</html>
